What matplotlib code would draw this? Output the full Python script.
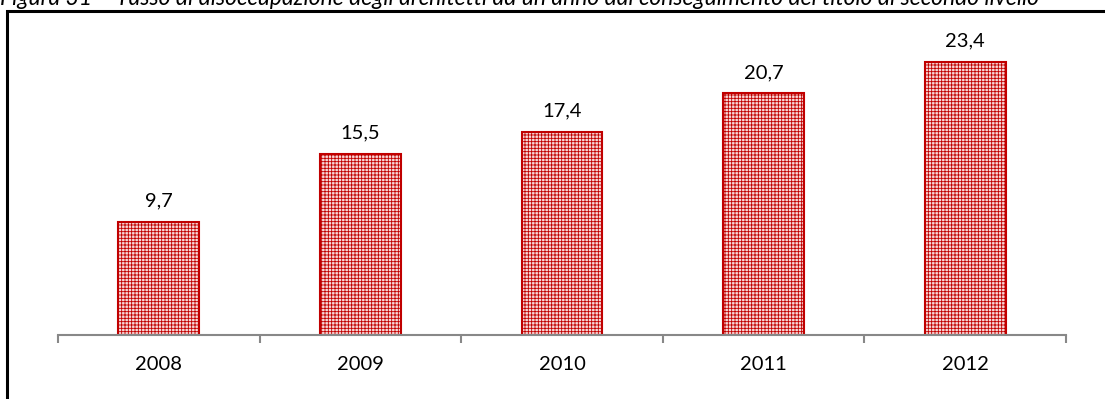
import matplotlib.pyplot as plt
import matplotlib.patches as mpatches

years = ["2008", "2009", "2010", "2011", "2012"]
rates = [9.7, 15.5, 17.4, 20.7, 23.4]
value_labels = ["9,7", "15,5", "17,4", "20,7", "23,4"]
title = ("Figura 31 – Tasso di disoccupazione degli architetti ad un anno "
         "dal conseguimento del titolo di secondo livello")

plt.rcParams['font.family'] = ['Lato', 'DejaVu Sans']
plt.rcParams['hatch.color'] = '#e05858'
plt.rcParams['hatch.linewidth'] = 0.6

fig = plt.figure(figsize=(11.05, 3.99), dpi=100)
ax = fig.add_axes([58 / 1105, 64 / 399, (1066 - 58) / 1105, 0.7311])

x = list(range(len(years)))
bars = ax.bar(x, rates, width=0.4, color='#f8d8d8', edgecolor='#c00000',
              linewidth=1.5, hatch='+++++')
for xi, v, lab in zip(x, rates, value_labels):
    ax.text(xi, v + 1.8, lab, ha='center', va='center', fontsize=14.5, clip_on=False)

ax.set_xlim(-0.5, len(years) - 0.5)
ax.set_ylim(0, 25)
for s in ['top', 'right', 'left']:
    ax.spines[s].set_visible(False)
ax.spines['bottom'].set_color('#888888')
ax.spines['bottom'].set_linewidth(1.5)
ax.set_yticks([])
ax.set_xticks([i - 0.5 for i in range(len(years) + 1)], minor=False)
ax.set_xticklabels([])
ax.set_xticks(x, minor=True)
ax.set_xticklabels(years, minor=True, fontsize=14.5)
ax.tick_params(axis='x', which='major', length=6, width=1.5, color='#888888')
ax.tick_params(axis='x', which='minor', length=0, pad=15)

# frame round the figure, cut at the right and bottom like the source
frame = mpatches.Rectangle((6.5 / 1105, -0.2), 1.2, 0.2 + 1 - 11 / 399,
                           transform=fig.transFigure, fill=False,
                           edgecolor='black', linewidth=2.2)
fig.patches.append(frame)

fig.text(0.0, 1 - 5 / 399, title, ha='left', va='baseline', fontsize=16.5,
         style='italic')

fig.savefig('out.png', dpi=100)
